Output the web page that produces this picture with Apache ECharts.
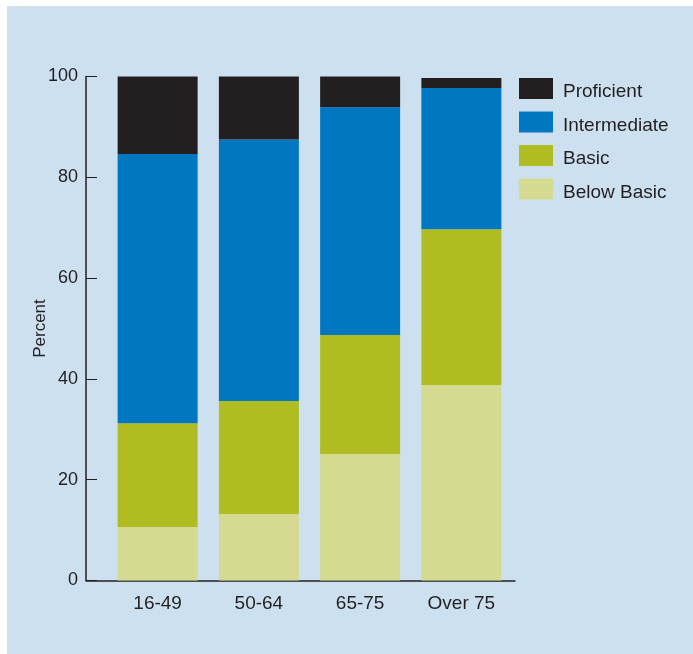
<!DOCTYPE html>
<html>
<head>
<meta charset="utf-8">
<style>
  html, body { margin: 0; padding: 0; background: #ffffff; }
  #wrap { position: relative; width: 693px; height: 654px; overflow: hidden; }
  #chart { position: absolute; left: 7px; top: 6px; width: 686px; height: 648px; }
</style>
<script src="https://cdn.jsdelivr.net/npm/echarts@6/dist/echarts.min.js"></script>
</head>
<body>
<div id="wrap"><div id="chart"></div></div>
<script>
// Literacy level by age group, percent of adults
const ageGroups = ['16-49', '50-64', '65-75', 'Over 75'];
const belowBasic = [10.6, 13.2, 25.1, 38.8];
const basic = [20.6, 22.4, 23.6, 30.9];
const intermediate = [53.4, 51.9, 45.2, 28.0];
const proficient = [15.4, 12.5, 6.1, 2.0];
const percentTicks = [0, 20, 40, 60, 80, 100];

const textColor = '#231f20';
const fontFamily = '"Liberation Sans", Arial, Helvetica, sans-serif';

const chart = echarts.init(document.getElementById('chart'), null, { renderer: 'canvas' });

function barSeries(name, data, color) {
  return {
    name: name,
    type: 'bar',
    stack: 'level',
    xAxisIndex: 1,
    yAxisIndex: 1,
    barWidth: 80,
    data: data,
    itemStyle: { color: color },
    emphasis: { disabled: true }
  };
}

chart.setOption({
  backgroundColor: '#cde0f0',
  animation: false,
  textStyle: { fontFamily: fontFamily, color: textColor },
  legend: {
    orient: 'vertical',
    left: 507,
    top: 67,
    itemWidth: 34,
    itemHeight: 21,
    itemGap: 10,
    icon: 'rect',
    selectedMode: false,
    data: ['Proficient', 'Intermediate', 'Basic', 'Below Basic'],
    formatter: '{t|{name}}',
    textStyle: {
      fontSize: 19, color: textColor, fontFamily: fontFamily,
      rich: { t: { fontSize: 19, color: textColor, fontFamily: fontFamily, padding: [7, 0, 0, 5] } }
    }
  },
  grid: [
    // frame holding the percent axis and the baseline
    { left: 79, top: 70.5, width: 429, height: 504 },
    // bar area
    { left: 100, top: 70.5, width: 405, height: 504 }
  ],
  xAxis: [
    {
      gridIndex: 0,
      type: 'value',
      min: 0,
      max: 1,
      axisLine: { show: true, lineStyle: { color: textColor, width: 1.5 } },
      axisTick: { show: false },
      axisLabel: { show: false },
      splitLine: { show: false }
    },
    {
      gridIndex: 1,
      type: 'category',
      data: ageGroups,
      axisLine: { show: false },
      axisTick: { show: false },
      axisLabel: { fontSize: 19, color: textColor, margin: 14, fontFamily: fontFamily },
      splitLine: { show: false }
    }
  ],
  yAxis: [
    {
      gridIndex: 0,
      type: 'value',
      position: 'left',
      min: percentTicks[0],
      max: percentTicks[percentTicks.length - 1],
      interval: percentTicks[1] - percentTicks[0],
      axisLine: { show: true, lineStyle: { color: textColor, width: 1.5 } },
      axisTick: { show: true, inside: true, length: 11, lineStyle: { color: textColor, width: 1 } },
      axisLabel: { fontSize: 18, color: textColor, margin: 8, fontFamily: fontFamily },
      splitLine: { show: false }
    },
    {
      gridIndex: 1,
      type: 'value',
      min: 0,
      max: 100,
      show: false
    },
    {
      // carries only the axis title
      gridIndex: 0,
      type: 'value',
      position: 'left',
      min: 0,
      max: 100,
      name: 'Percent',
      nameLocation: 'middle',
      nameGap: 37,
      nameTextStyle: { fontSize: 17, color: textColor, fontFamily: fontFamily },
      axisLine: { show: false },
      axisTick: { show: false },
      axisLabel: { show: false },
      splitLine: { show: false }
    }
  ],
  series: [
    barSeries('Below Basic', belowBasic, '#d4da8f'),
    barSeries('Basic', basic, '#afbd22'),
    barSeries('Intermediate', intermediate, '#0077c0'),
    barSeries('Proficient', proficient, '#231f20')
  ]
});
</script>
</body>
</html>
